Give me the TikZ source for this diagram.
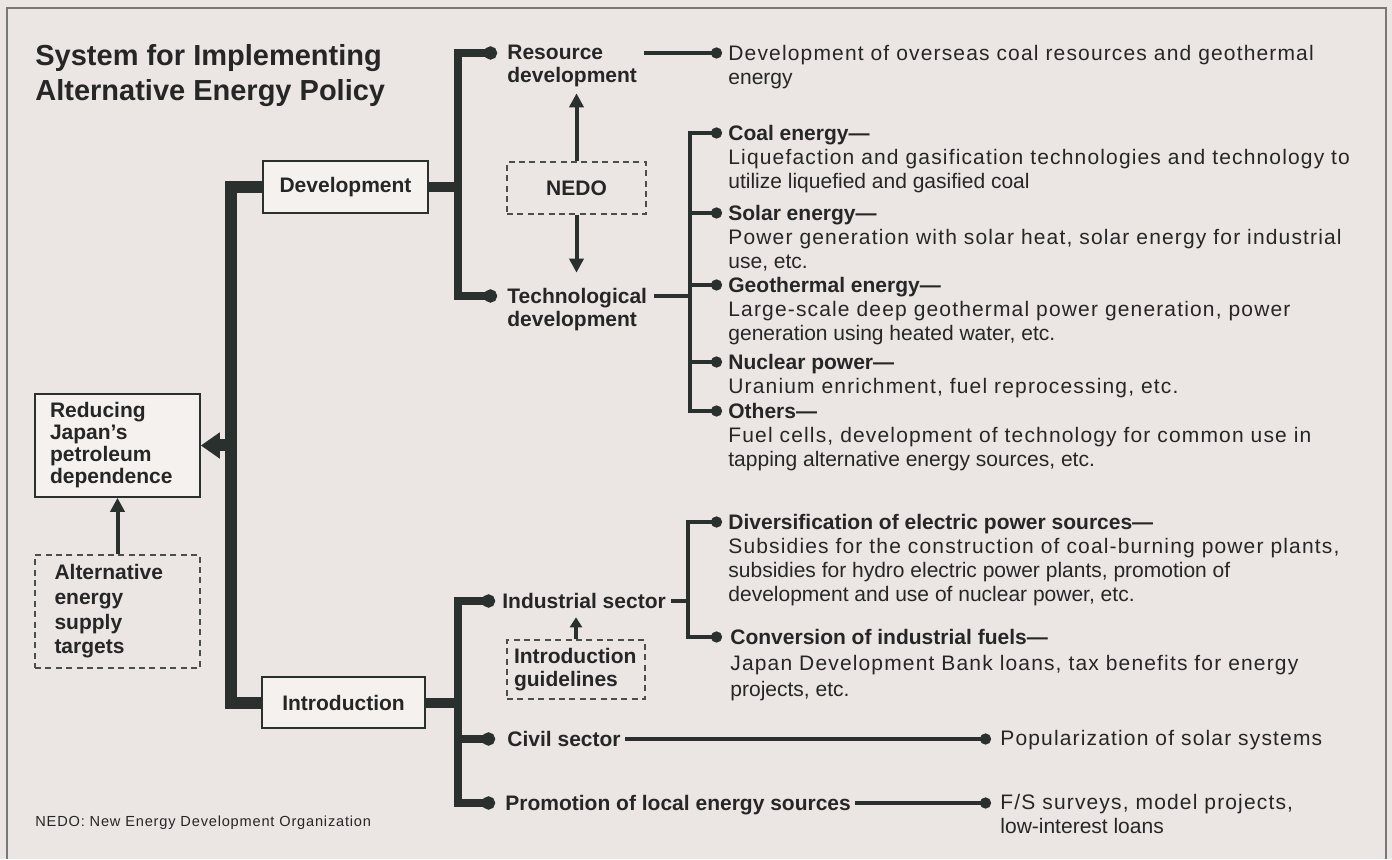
\documentclass[tikz,border=0pt]{standalone}
\usepackage{fontspec}
\setmainfont{Liberation Sans}
\newfontfamily\bodyfont[LetterSpace=5.5]{Liberation Sans}
\usepackage{tikz}
\usetikzlibrary{arrows.meta,positioning}
\definecolor{paper}{RGB}{235,230,228}
\definecolor{boxfill}{RGB}{244,241,238}
\definecolor{ink}{RGB}{42,48,45}
\definecolor{inktext}{RGB}{38,38,38}
\definecolor{framecol}{RGB}{120,120,120}

\begin{document}
\begin{tikzpicture}[x=0.5pt,y=-0.5pt]
  \tikzset{
    box/.style={draw=ink,line width=0.8pt,fill=boxfill,inner sep=0pt,text=inktext,font=\bfseries\fontsize{10.5}{11.5}\selectfont},
    dbox/.style={draw=ink!85,line width=0.7pt,dash pattern=on 3pt off 2.2pt,inner sep=0pt,text=inktext,font=\bfseries\fontsize{10.5}{11.5}\selectfont},
    lbl/.style={anchor=north west,inner sep=0pt,align=left,text=inktext,font=\bfseries\fontsize{10.5}{11.5}\selectfont},
    item/.style={anchor=north west,inner sep=0pt,align=left,text=inktext,font=\fontsize{10.5}{12}\selectfont},
    trunk/.style={draw=ink,line width=6pt,line join=miter},
    limb/.style={draw=ink,line width=4pt,line join=miter},
    twig/.style={draw=ink,line width=2pt,line join=miter},
    dot/.style={-{Circle[length=5.5pt 0,width=5.5pt 0]}},
    bigdot/.style={-{Circle[length=6.5pt 0,width=6.5pt 0]}},
    ptr/.style={draw=ink,line width=2pt,-{Triangle[length=7pt 0,width=7pt 0]}}
  }
  % ---------------- paper and frame
  \fill[paper] (0,0) rectangle (1392,859);
  \draw[framecol,line width=1pt] (7,859) -- (7,8) -- (1386,8) -- (1386,859);
  \node[anchor=north west,inner sep=0pt,align=left,text=inktext,font=\bfseries\fontsize{14.5}{17.5}\selectfont] (title) at (35,44) {System for Implementing\\Alternative Energy Policy};
  \node[anchor=north west,inner sep=0pt,text=inktext,font=\bodyfont\fontsize{7.3}{9}\selectfont] (note) at (35,816) {NEDO: New Energy Development Organization};

  % ---------------- left column
  \node[box,align=left,text width=67.5pt,inner xsep=7.5pt,minimum height=51.5pt,font=\bfseries\fontsize{10.5}{11}\selectfont] (reduce) at (117.5,445.5) {Reducing\\Japan’s\\petroleum\\dependence};
  \node[dbox,align=left,text width=63pt,inner xsep=9.75pt,minimum height=56.5pt,font=\bfseries\fontsize{10.5}{12.3}\selectfont] (targets) at (117.5,611.5) {Alternative\\energy\\supply\\targets};
  \node[box,minimum width=82.5pt,minimum height=26pt] (dev) at (345.5,187) {Development};
  \node[box,minimum width=81.5pt,minimum height=25.5pt] (intro) at (343.5,702.5) {Introduction};

  \draw[trunk] (dev.west) -- ++(-31,0) |- (intro.west);
  \draw[trunk,-{Triangle[length=9.5pt 0,width=12.5pt 0]}] (reduce.east) ++(32,0) -- (reduce.east);
  \draw[ptr] (targets.north) -- (reduce.south);

  % ---------------- development branch
  \node[lbl] (res) at (507,45) {Resource\\development};
  \node[lbl] (tech) at (507,288) {Technological\\development};
  \node[dbox,minimum width=69.5pt,minimum height=26pt] (nedo) at (576.5,188) {NEDO};
  \coordinate (dres) at (497,53);
  \coordinate (dtech) at (497,296);
  \draw[limb,line width=5pt] (dev.east) -- ++(29,0);
  \draw[limb,bigdot] (dev.east) ++(29,0) |- (dres);
  \draw[limb,bigdot] (dev.east) ++(29,0) |- (dtech);
  \draw[ptr] (nedo.north) -- ++(0,-68);
  \draw[ptr] (nedo.south) -- ++(0,58);

  \node[item] (dov) at (728,45) {\bodyfont Development of overseas coal resources and geothermal\\energy};
  \coordinate (ddov) at (722,53);
  \draw[twig,dot] ([xshift=3.5pt]res.east |- ddov) -- (ddov);

  \node[item] (coal) at (728,125) {\textbf{Coal energy—}\\\bodyfont Liquefaction and gasification technologies and technology to\\utilize liquefied and gasified coal};
  \node[item] (solar) at (728,205) {\textbf{Solar energy—}\\\bodyfont Power generation with solar heat, solar energy for industrial\\use, etc.};
  \node[item] (geo) at (728,277) {\textbf{Geothermal energy—}\\\bodyfont Large-scale deep geothermal power generation, power\\generation using heated water, etc.};
  \node[item] (nuc) at (728,354) {\textbf{Nuclear power—}\\\bodyfont Uranium enrichment, fuel reprocessing, etc.};
  \node[item] (oth) at (728,403) {\textbf{Others—}\\\bodyfont Fuel cells, development of technology for common use in\\tapping alternative energy sources, etc.};
  \coordinate (dcoal) at (722,133);
  \coordinate (dsolar) at (722,213);
  \coordinate (dgeo) at (722,285);
  \coordinate (dnuc) at (722,362);
  \coordinate (doth) at (722,411);
  \coordinate (tbar) at (690,296);
  \draw[twig] ([xshift=3.5pt]tech.east |- dtech) -- (tbar);
  \foreach \n in {coal,solar,geo,nuc,oth}
    \draw[twig,dot] (tbar) |- (d\n);

  % ---------------- introduction branch
  \node[lbl] (ind) at (502,593) {Industrial sector};
  \node[lbl] (civ) at (507,731) {Civil sector};
  \node[lbl] (prom) at (505,795) {Promotion of local energy sources};
  \node[dbox,align=left,text width=62pt,inner xsep=3.5pt,minimum height=29.5pt,font=\bfseries\fontsize{10.5}{11.5}\selectfont] (guide) at (576,669.5) {Introduction\\guidelines};
  \coordinate (dind) at (495,601);
  \coordinate (dciv) at (495,739);
  \coordinate (dprom) at (495,803);
  \draw[limb,line width=5pt] (intro.east) -- ++(32,0);
  \foreach \n in {ind,civ,prom}
    \draw[limb,bigdot] (intro.east) ++(32,0) |- (d\n);
  \draw[draw=ink,line width=1.8pt,-{Triangle[length=5pt 0,width=6pt 0]}] (guide.north) -- ++(0,-22);

  \node[item] (div) at (728,514) {\textbf{Diversification of electric power sources—}\\\bodyfont Subsidies for the construction of coal-burning power plants,\\subsidies for hydro electric power plants, promotion of\\development and use of nuclear power, etc.};
  \node[item,font=\fontsize{10.5}{13}\selectfont] (conv) at (730,629) {\textbf{Conversion of industrial fuels—}\\\bodyfont Japan Development Bank loans, tax benefits for energy\\projects, etc.};
  \coordinate (ddiv) at (722,522);
  \coordinate (dconv) at (722,637);
  \coordinate (ibar) at (688,601);
  \draw[twig] ([xshift=2.5pt]ind.east |- dind) -- (ibar);
  \draw[twig,dot] (ibar) |- (ddiv);
  \draw[twig,dot] (ibar) |- (dconv);

  \node[item] (pop) at (1000,730) {\bodyfont Popularization of solar systems};
  \node[item] (fs) at (1000,794) {\bodyfont F/S surveys, model projects,\\low-interest loans};
  \coordinate (dpop) at (991,739);
  \coordinate (dfs) at (991,803);
  \draw[twig,dot] ([xshift=2pt]civ.east |- dpop) -- (dpop);
  \draw[twig,dot] ([xshift=2pt]prom.east |- dfs) -- (dfs);
\end{tikzpicture}
\end{document}
